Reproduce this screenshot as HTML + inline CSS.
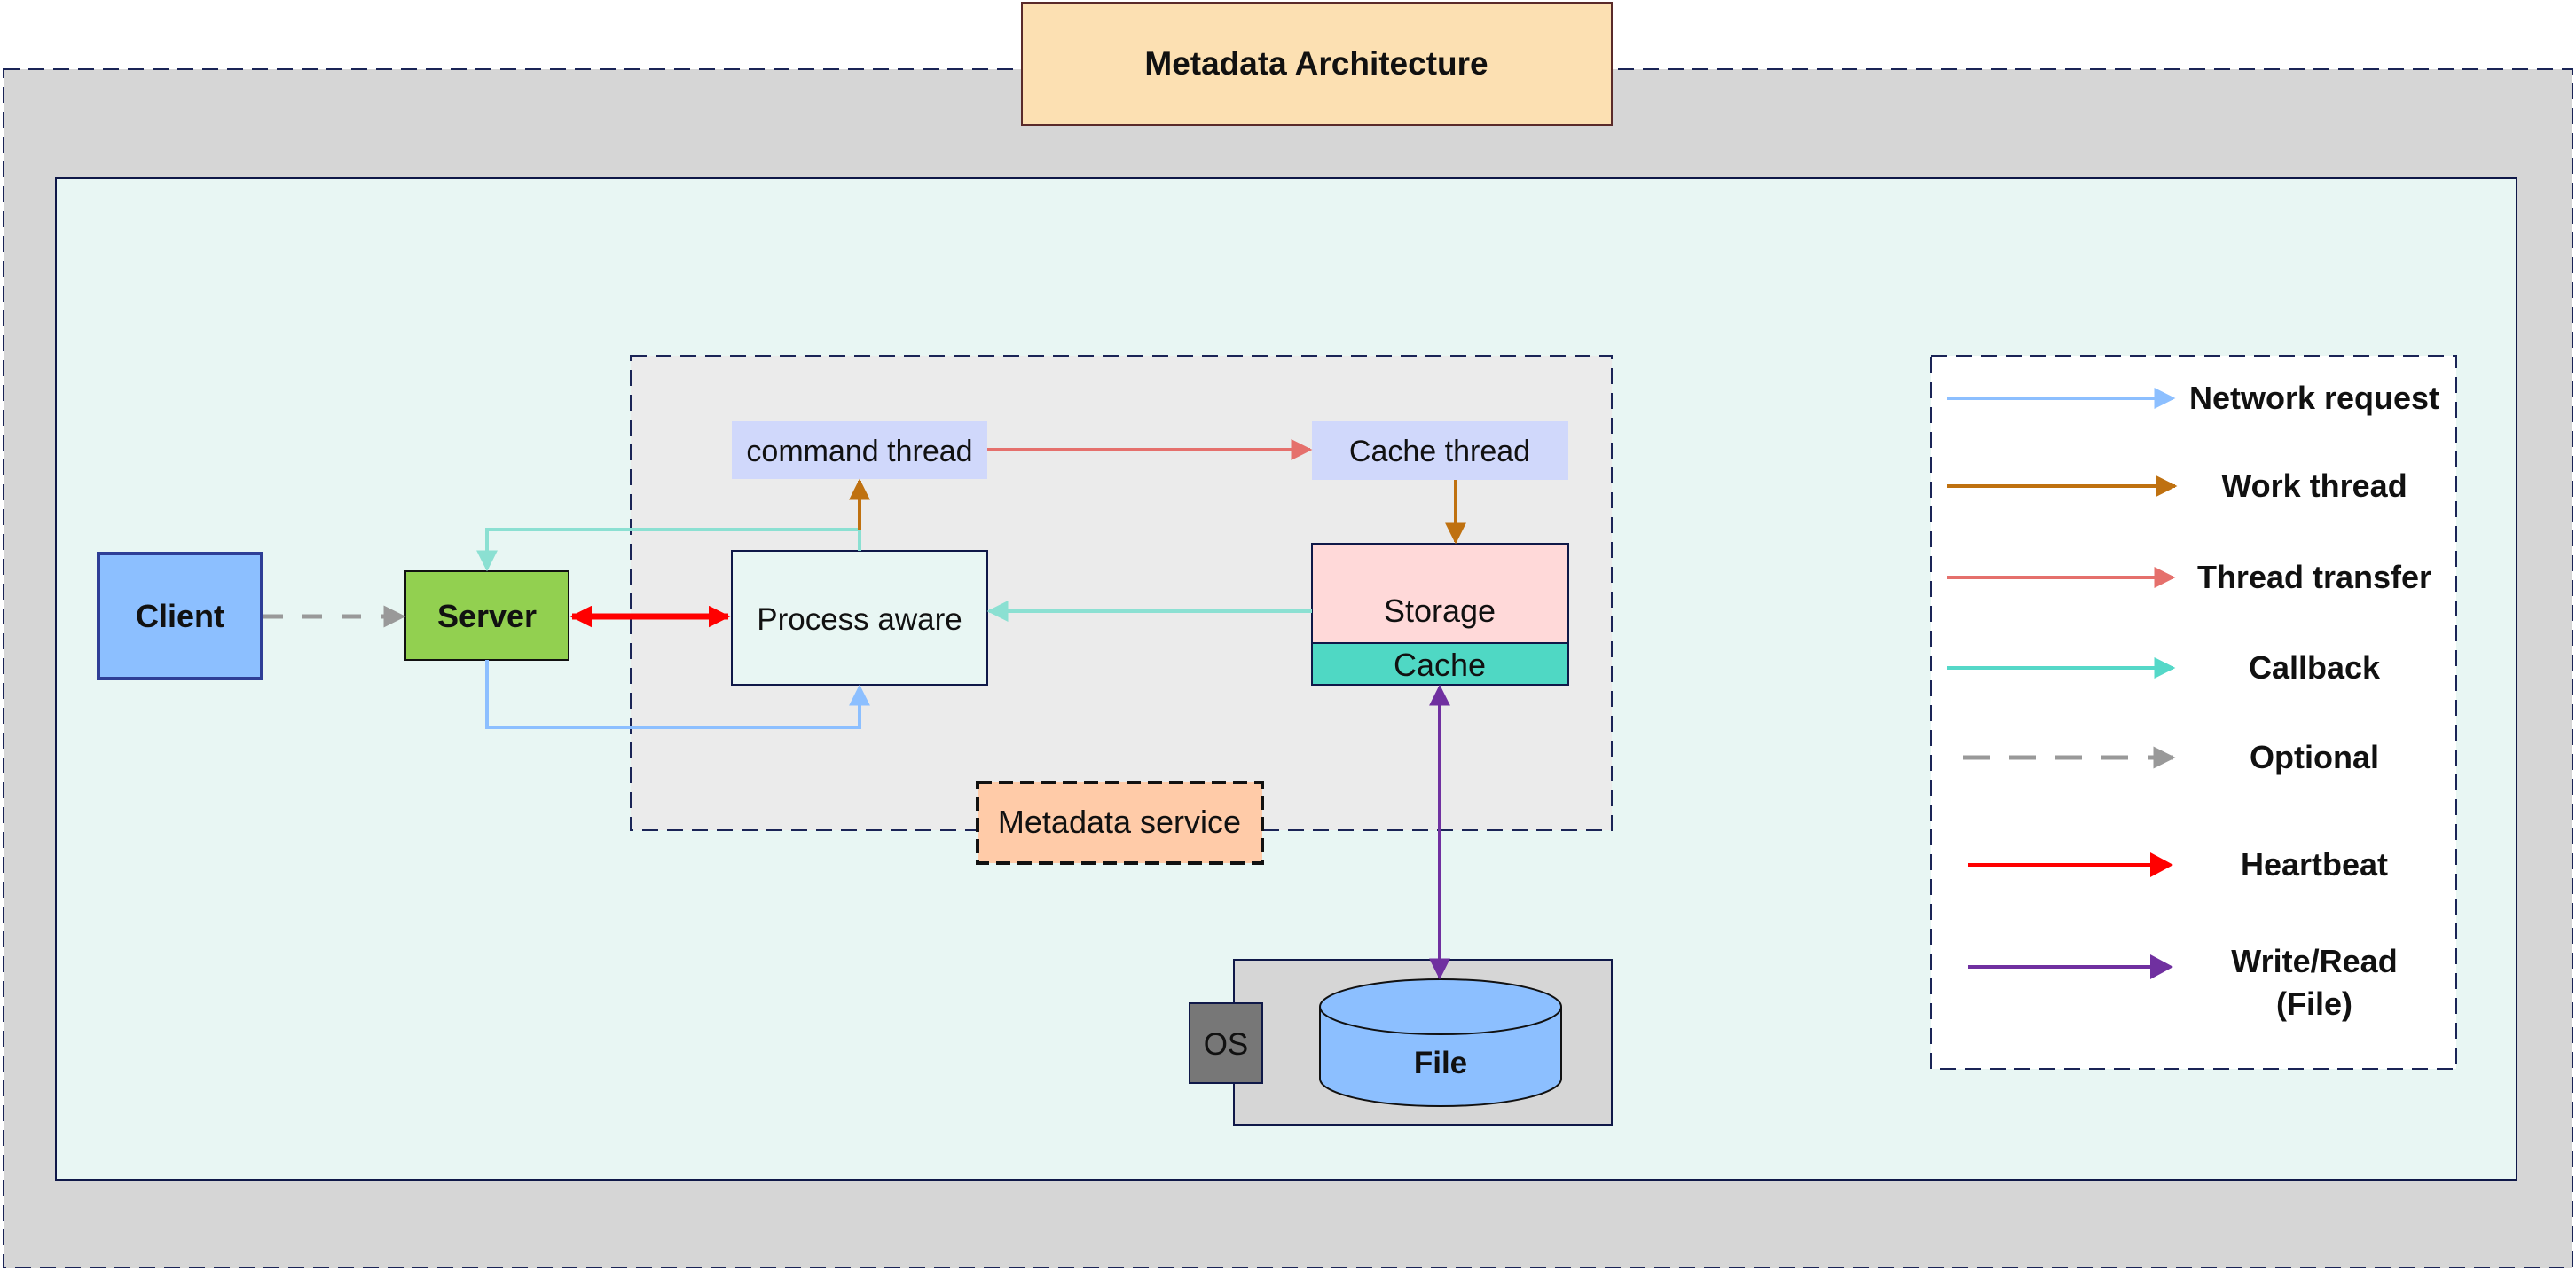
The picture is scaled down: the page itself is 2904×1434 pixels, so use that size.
<!DOCTYPE html>
<html><head><meta charset="utf-8"><style>
html,body{margin:0;padding:0;background:#fff}
svg{display:block}
text{font-family:"Liberation Sans",sans-serif;fill:#111}
.b{font-weight:bold}
</style></head><body>
<svg width="2904" height="1434" viewBox="0 0 2904 1434" xmlns="http://www.w3.org/2000/svg">
<defs>
<marker id="mBlue" viewBox="0 0 10 10" refX="9" refY="5" markerWidth="6" markerHeight="6" orient="auto-start-reverse" markerUnits="strokeWidth"><path d="M0,0L10,5L0,10z" fill="#8cbfff"/></marker>
<marker id="mOr" viewBox="0 0 10 10" refX="9" refY="5" markerWidth="6" markerHeight="6" orient="auto-start-reverse" markerUnits="strokeWidth"><path d="M0,0L10,5L0,10z" fill="#bf7110"/></marker>
<marker id="mPink" viewBox="0 0 10 10" refX="9" refY="5" markerWidth="6" markerHeight="6" orient="auto-start-reverse" markerUnits="strokeWidth"><path d="M0,0L10,5L0,10z" fill="#e5706c"/></marker>
<marker id="mTeal" viewBox="0 0 10 10" refX="9" refY="5" markerWidth="6" markerHeight="6" orient="auto-start-reverse" markerUnits="strokeWidth"><path d="M0,0L10,5L0,10z" fill="#8be0d2"/></marker>
<marker id="mTeal2" viewBox="0 0 10 10" refX="9" refY="5" markerWidth="6" markerHeight="6" orient="auto-start-reverse" markerUnits="strokeWidth"><path d="M0,0L10,5L0,10z" fill="#55d8c8"/></marker>
<marker id="mGray" viewBox="0 0 10 10" refX="9" refY="5" markerWidth="5" markerHeight="5" orient="auto-start-reverse" markerUnits="strokeWidth"><path d="M0,0L10,5L0,10z" fill="#999"/></marker>
<marker id="mRed" viewBox="0 0 10 10" refX="9" refY="5" markerWidth="3.5" markerHeight="3.5" orient="auto-start-reverse" markerUnits="strokeWidth"><path d="M0,0L10,5L0,10z" fill="#ff0000"/></marker>
<marker id="mPur" viewBox="0 0 10 10" refX="9" refY="5" markerWidth="6" markerHeight="6" orient="auto-start-reverse" markerUnits="strokeWidth"><path d="M0,0L10,5L0,10z" fill="#7030a0"/></marker>
</defs>

<rect x="4" y="78" width="2896" height="1351" fill="#d6d6d6" stroke="#1a2456" stroke-width="2" stroke-dasharray="18,10"/>
<rect x="1152" y="3" width="665" height="138" fill="#fce0b2" stroke="#5a2a2a" stroke-width="2"/>
<text x="1484" y="84" font-size="37" text-anchor="middle" class="b">Metadata Architecture</text>

<rect x="63" y="201" width="2774" height="1129" fill="#e8f6f3" stroke="#0f1848" stroke-width="2"/>

<rect x="711" y="401" width="1106" height="535" fill="#ebebeb" stroke="#1a2456" stroke-width="2" stroke-dasharray="18,10"/>

<rect x="2177" y="401" width="592" height="804" fill="#fff" stroke="#1a2456" stroke-width="2" stroke-dasharray="18,10"/>

<rect x="111" y="624" width="184" height="141" fill="#8cbfff" stroke="#2e3e96" stroke-width="4"/>
<text x="203" y="707" font-size="36" text-anchor="middle" class="b">Client</text>
<rect x="457" y="644" width="184" height="100" fill="#92d050" stroke="#111" stroke-width="2"/>
<text x="549" y="707" font-size="36" text-anchor="middle" class="b">Server</text>

<rect x="825" y="475" width="288" height="65" fill="#d0d8fb"/>
<text x="969" y="520" font-size="34" text-anchor="middle">command thread</text>
<rect x="825" y="621" width="288" height="151" fill="#e8f6f3" stroke="#0f1848" stroke-width="2"/>
<text x="969" y="710" font-size="35" text-anchor="middle">Process aware</text>
<rect x="1479" y="475" width="289" height="66" fill="#d0d8fb"/>
<text x="1623" y="520" font-size="34" text-anchor="middle">Cache thread</text>
<rect x="1479" y="613" width="289" height="112" fill="#ffd9d9" stroke="#0f1848" stroke-width="2"/>
<text x="1623" y="701" font-size="36" text-anchor="middle">Storage</text>
<rect x="1479" y="725" width="289" height="47" fill="#4fd8c4" stroke="#0f1848" stroke-width="2"/>
<text x="1623" y="762" font-size="36" text-anchor="middle">Cache</text>

<rect x="1102" y="882" width="321" height="91" fill="#ffcba8" stroke="#111" stroke-width="4" stroke-dasharray="16,8"/>
<text x="1262" y="939" font-size="36" text-anchor="middle">Metadata service</text>

<rect x="1391" y="1082" width="426" height="186" fill="#d6d6d6" stroke="#0f1848" stroke-width="2"/>
<rect x="1341" y="1131" width="82" height="90" fill="#777" stroke="#0f1848" stroke-width="2"/>
<text x="1382" y="1189" font-size="35" text-anchor="middle">OS</text>
<path d="M1488,1135 L1488,1216 A136,31 0 0 0 1760,1216 L1760,1135" fill="#8cbfff" stroke="#111" stroke-width="2"/>
<ellipse cx="1624" cy="1135" rx="136" ry="31" fill="#8cbfff" stroke="#111" stroke-width="2"/>
<text x="1624" y="1210" font-size="35" text-anchor="middle" class="b">File</text>

<line x1="297" y1="695" x2="455" y2="695" stroke="#999" stroke-width="5" stroke-dasharray="22,22" marker-end="url(#mGray)"/>
<line x1="645" y1="695" x2="821" y2="695" stroke="#ff0000" stroke-width="7" marker-start="url(#mRed)" marker-end="url(#mRed)"/>
<polyline points="969,621 969,597 549,597 549,642" fill="none" stroke="#8be0d2" stroke-width="4" marker-end="url(#mTeal)"/>
<line x1="969" y1="597" x2="969" y2="542" stroke="#bf7110" stroke-width="4" marker-end="url(#mOr)"/>
<polyline points="549,744 549,820 969,820 969,774" fill="none" stroke="#8cbfff" stroke-width="4" marker-end="url(#mBlue)"/>
<line x1="1113" y1="507" x2="1477" y2="507" stroke="#e5706c" stroke-width="4" marker-end="url(#mPink)"/>
<line x1="1641" y1="541" x2="1641" y2="611" stroke="#bf7110" stroke-width="4" marker-end="url(#mOr)"/>
<line x1="1479" y1="689" x2="1115" y2="689" stroke="#8be0d2" stroke-width="4" marker-end="url(#mTeal)"/>
<line x1="1623" y1="774" x2="1623" y2="1102" stroke="#7030a0" stroke-width="4" marker-start="url(#mPur)" marker-end="url(#mPur)"/>

<line x1="2195" y1="449" x2="2450" y2="449" stroke="#8cbfff" stroke-width="4" marker-end="url(#mBlue)"/>
<text x="2609" y="461" font-size="36" text-anchor="middle" class="b">Network request</text>
<line x1="2195" y1="548" x2="2452" y2="548" stroke="#bf7110" stroke-width="4" marker-end="url(#mOr)"/>
<text x="2609" y="560" font-size="36" text-anchor="middle" class="b">Work thread</text>
<line x1="2195" y1="651" x2="2450" y2="651" stroke="#e5706c" stroke-width="4" marker-end="url(#mPink)"/>
<text x="2609" y="663" font-size="36" text-anchor="middle" class="b">Thread transfer</text>
<line x1="2195" y1="753" x2="2450" y2="753" stroke="#55d8c8" stroke-width="4" marker-end="url(#mTeal2)"/>
<text x="2609" y="765" font-size="36" text-anchor="middle" class="b">Callback</text>
<line x1="2213" y1="854" x2="2450" y2="854" stroke="#999" stroke-width="5" stroke-dasharray="30,22" marker-end="url(#mGray)"/>
<text x="2609" y="866" font-size="36" text-anchor="middle" class="b">Optional</text>
<line x1="2219" y1="975" x2="2426" y2="975" stroke="#ff0000" stroke-width="4"/>
<path d="M2424,961 L2450,975 L2424,989z" fill="#ff0000"/>
<text x="2609" y="987" font-size="36" text-anchor="middle" class="b">Heartbeat</text>
<line x1="2219" y1="1090" x2="2426" y2="1090" stroke="#7030a0" stroke-width="4"/>
<path d="M2424,1076 L2450,1090 L2424,1104z" fill="#7030a0"/>
<text x="2609" y="1096" font-size="36" text-anchor="middle" class="b">Write/Read</text>
<text x="2609" y="1144" font-size="36" text-anchor="middle" class="b">(File)</text>
</svg>
</body></html>
